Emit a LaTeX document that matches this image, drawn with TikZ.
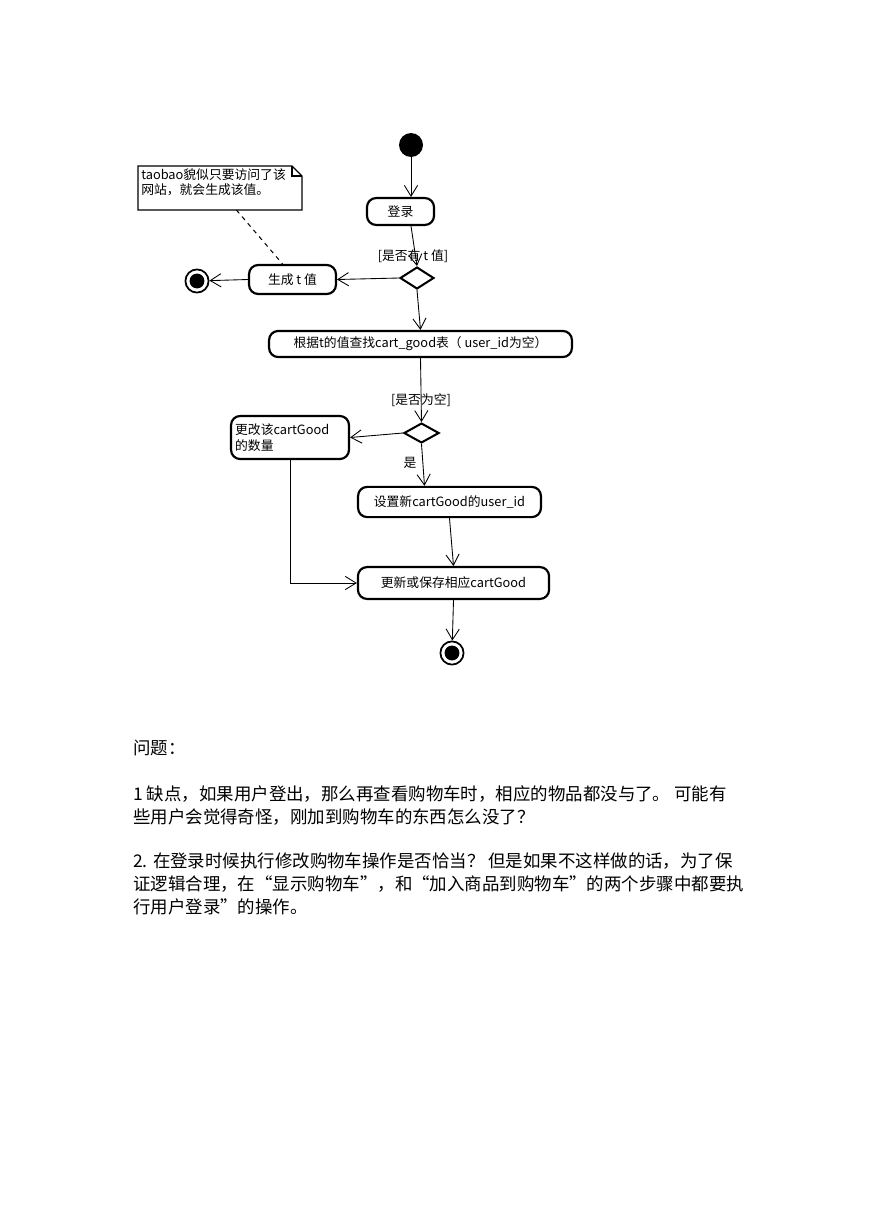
\documentclass[tikz,border=0pt]{standalone}
\usepackage{fontspec}
\setmainfont{Noto Sans CJK SC}
\usetikzlibrary{arrows.meta,shapes.geometric,calc}

\begin{document}
\begin{tikzpicture}[x=0.2417mm,y=-0.2417mm,
    act/.style={draw,line width=1.5pt,rounded corners=2.2mm,inner sep=0pt,font=\fontsize{8.8}{11.5}\selectfont},
    dec/.style={draw,diamond,line width=1.4pt,inner sep=0pt},
    flow/.style={line width=0.6pt,-{Straight Barb[length=2.6mm,width=3.2mm]}},
    guard/.style={font=\fontsize{8.8}{10}\selectfont,inner sep=0pt},
    para/.style={anchor=west,inner sep=0pt,font=\fontsize{12}{14}\selectfont}]
    \useasboundingbox (0,0) rectangle (869,1228);
    \node[circle,fill=black,minimum size=5.8mm,inner sep=0pt] (start) at (411,145) {};
    \node[act,minimum width=16.2mm,minimum height=6.5mm] (login) at (400.5,211.5) {登录};
    \node[dec,minimum width=8.2mm,minimum height=5.3mm] (d1) at (417,278) {};
    \node[act,minimum width=21mm,minimum height=7mm] (gen) at (292.5,279.5) {生成 t 值};
    \node[circle,draw,line width=1.2pt,minimum size=5.6mm,inner sep=0pt] (end1) at (197,281) {};
    \node[circle,fill=black,minimum size=3.6mm,inner sep=0pt] at (end1) {};
    \node[anchor=north west,inner sep=0pt,text width=38mm,align=left,
        font=\fontsize{8.8}{10.8}\selectfont] (note) at (141,168) {taobao貌似只要访问了该\\网站，就会生成该值。};
    \coordinate (nnw) at (138,166);
    \coordinate (nse) at (302,210);
    \draw[line width=0.8pt] (nnw) -- ($(nse|-nnw)+(-10,0)$) -- ($(nse|-nnw)+(0,10)$) -- (nse) -- (nnw|-nse) -- cycle;
    \draw[line width=0.8pt] ($(nse|-nnw)+(-10,0)$) -- ($(nse|-nnw)+(-10,10)$) -- ($(nse|-nnw)+(0,10)$);
    \node[act,minimum width=73.2mm,minimum height=6.3mm] (find) at (420.5,344) {根据t的值查找cart\_good表（ user\_id为空）};
    \node[dec,minimum width=8.5mm,minimum height=4.8mm] (d2) at (421.5,433) {};
    \node[act,minimum width=28.5mm,minimum height=10.4mm,text width=26.5mm,align=left] (change) at (290,437.5) {更改该cartGood\\的数量};
    \node[act,minimum width=44.2mm,minimum height=7.3mm] (setid) at (449.5,502) {设置新cartGood的user\_id};
    \node[act,minimum width=46.2mm,minimum height=7.7mm] (update) at (453.5,583) {更新或保存相应cartGood};
    \node[circle,draw,line width=1.2pt,minimum size=5.6mm,inner sep=0pt] (end2) at (452,653) {};
    \node[circle,fill=black,minimum size=3.6mm,inner sep=0pt] at (end2) {};
    \node[guard] (g1) at (413,256) {[是否有 t 值]};
    \node[guard] (g2) at (421,400) {[是否为空]};
    \node[guard] (g3) at (410,463) {是};
    \draw[flow] (start) -- (start|-login.north);
    \draw[flow] (login.south-|start) -- (d1.north);
    \draw[flow] (d1.west) -- (gen.east);
    \draw[flow] (gen.west) -- (end1);
    \draw[line width=0.7pt,dashed] ($(nnw|-nse)!0.6!(nse)$) -- ($(gen.north)+(-10,0)$);
    \draw[flow] (d1.south) -- (find.north);
    \draw[flow] (find.south) -- (d2.north);
    \draw[flow] (d2.west) -- (change.east);
    \draw[flow] (d2.south) -- ($(d2.south|-setid.north)+(3,0)$);
    \draw[flow] (setid.south) -- (update.north);
    \draw[flow] (change.south) -- (change.south|-update.west) -- (update.west);
    \draw[flow] (update.south) -- (end2);
    \node[para] (q0) at (133,748) {问题：};
    \node[para] (q1) at (133,794) {1 缺点，如果用户登出，那么再查看购物车时，相应的物品都没与了。 可能有};
    \node[para] (q2) at (133,817) {些用户会觉得奇怪，刚加到购物车的东西怎么没了？};
    \node[para] (q3) at (133,861) {2. 在登录时候执行修改购物车操作是否恰当？ 但是如果不这样做的话，为了保};
    \node[para] (q4) at (133,884) {证逻辑合理，在“显示购物车”，和“加入商品到购物车”的两个步骤中都要执};
    \node[para] (q5) at (133,907) {行用户登录”的操作。};
\end{tikzpicture}
\end{document}
